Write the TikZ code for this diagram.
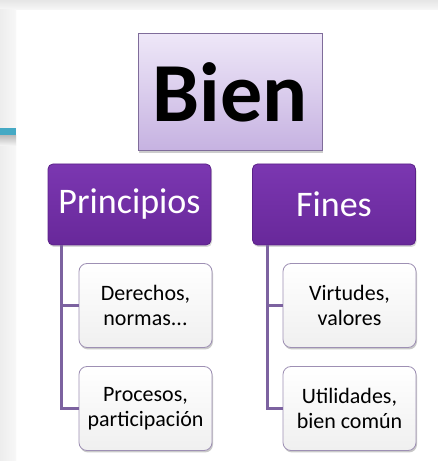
\documentclass[tikz,border=0pt]{standalone}
\usepackage{fontspec}
\setmainfont{Carlito}
\usetikzlibrary{shadows}
\definecolor{lilatop}{HTML}{EEE7F8}
\definecolor{lilabot}{HTML}{C6B2E1}
\definecolor{lilaline}{HTML}{7F6C9A}
\definecolor{moradotop}{HTML}{7B37B1}
\definecolor{moradobot}{HTML}{68289A}
\definecolor{moradoline}{HTML}{5B2288}
\definecolor{hojaline}{HTML}{9E90B4}
\definecolor{enlace}{HTML}{7C62A0}
\definecolor{turquesa}{HTML}{45A9C4}
\begin{document}
\begin{tikzpicture}[x=1pt,y=1pt,
    raiz/.style={draw=lilaline,line width=1pt,top color=lilatop,bottom color=lilabot,
      minimum width=184pt,minimum height=117pt,
      font=\fontsize{84}{90}\selectfont\bfseries,
      drop shadow={shadow xshift=1pt,shadow yshift=-2pt,fill=black!50,opacity=.4}},
    rama/.style={draw=moradoline,line width=.8pt,top color=moradotop,bottom color=moradobot,
      rounded corners=5pt,text=white,minimum width=163pt,minimum height=81pt,
      font=\fontsize{36}{40}\selectfont,
      drop shadow={shadow xshift=1pt,shadow yshift=-2pt,fill=black!50,opacity=.3}},
    hoja/.style={draw=hojaline,line width=.8pt,top color=white,bottom color=black!6,
      rounded corners=8pt,minimum width=133pt,minimum height=84pt,align=center,
      font=\fontsize{22}{25}\selectfont,
      drop shadow={shadow xshift=1pt,shadow yshift=-2pt,fill=black!60,opacity=.35}},
    enlace/.style={draw=enlace,line width=3pt}]
  \useasboundingbox (0,0) rectangle (438,461);
  % fondo de la diapositiva
  \fill[white] (0,0) rectangle (438,461);
  \shade[top color=black!10,bottom color=black!3] (0,451) rectangle (438,461);
  \shade[left color=black!7,right color=black!3] (0,0) rectangle (16,451);
  \fill[turquesa] (0,325) rectangle (16,333);
  \shade[top color=black!25,bottom color=black!3] (0,315) rectangle (16,325);
  % cajas
  \node[raiz] (bien) at (230,368.5) {Bien};
  \node[rama] (princ) at (129.5,256.5) {Principios};
  \node[rama] (fines) at (334,256.5) {Fines};
  \node[hoja] (der) at (145.5,155.5) {Derechos,\\normas...};
  \node[hoja] (proc) at (145.5,52.5) {Procesos,\\participación};
  \node[hoja] (virt) at (349.5,155.5) {Virtudes,\\valores};
  \node[hoja] (util) at (349.5,52.5) {Utilidades,\\bien común};
  % enlaces
  \coordinate (pi) at ([xshift=14pt]princ.south west);
  \coordinate (fi) at ([xshift=15pt]fines.south west);
  \begin{scope}[enlace]
    \draw (pi) |- (der.west);
    \draw (pi) |- (proc.west);
    \draw (fi) |- (virt.west);
    \draw (fi) |- (util.west);
  \end{scope}
\end{tikzpicture}
\end{document}
